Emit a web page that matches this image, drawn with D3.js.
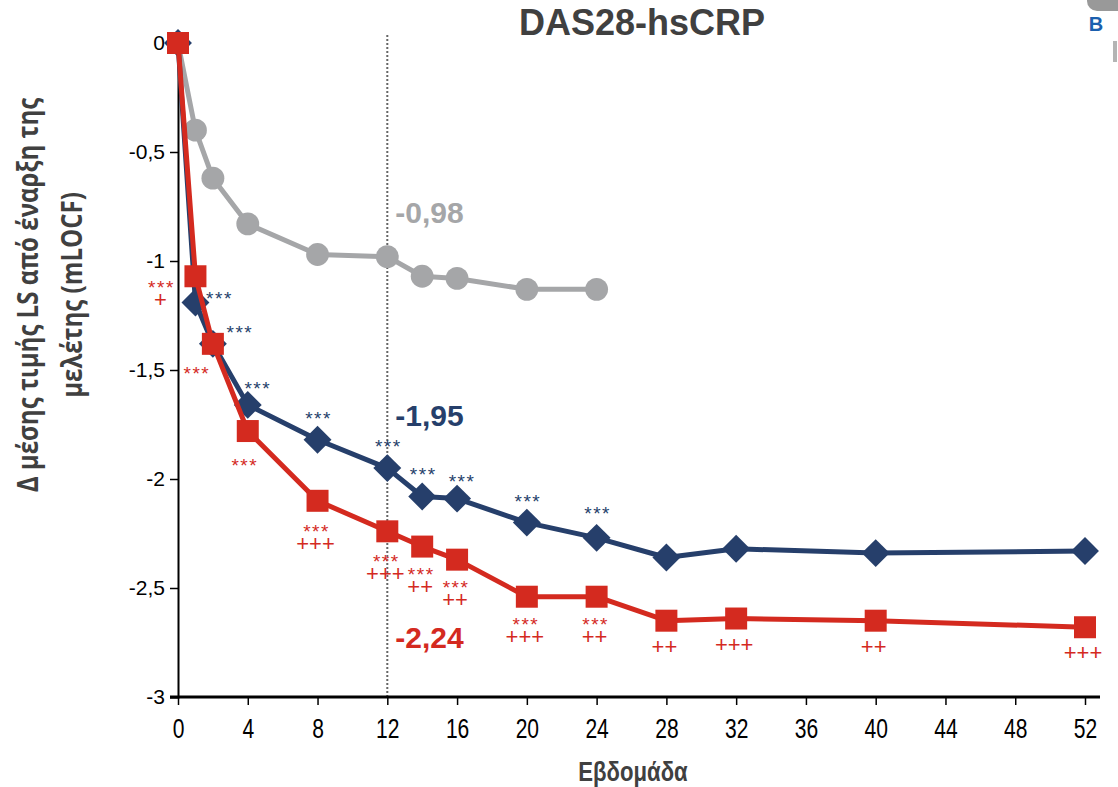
<!DOCTYPE html>
<html>
<head>
<meta charset="utf-8">
<script src="https://cdn.jsdelivr.net/npm/d3@7"></script>
<style>
  body { margin: 0; background: #fff; }
  svg { display: block; }
</style>
</head>
<body>
<div id="viz"></div>
<script>
// weeks and values
var weeksPlacebo = [0, 1, 2, 4, 8, 12, 14, 16, 20, 24];
var placebo = [0, -0.40, -0.62, -0.83, -0.97, -0.98, -1.07, -1.08, -1.13, -1.13];

var weeks = [0, 1, 2, 4, 8, 12, 14, 16, 20, 24, 28, 32, 40, 52];
var blue = [0, -1.19, -1.38, -1.66, -1.82, -1.95, -2.08, -2.09, -2.20, -2.27, -2.36, -2.32, -2.34, -2.33];
var red = [0, -1.07, -1.38, -1.78, -2.10, -2.24, -2.31, -2.37, -2.54, -2.54, -2.65, -2.64, -2.65, -2.68];

// significance marks per week
var blueStars = ['', '***', '***', '***', '***', '***', '***', '***', '***', '***', '', '', '', ''];
var redStars = ['', '***', '***', '***', '***', '***', '***', '***', '***', '***', '', '', '', ''];
var redPlus = ['', '+', '', '', '+++', '+++', '++', '++', '+++', '++', '++', '+++', '++', '+++'];

var xTicks = [0, 4, 8, 12, 16, 20, 24, 28, 32, 36, 40, 44, 48, 52];
var yTicks = [0, -0.5, -1, -1.5, -2, -2.5, -3];

var endLabels = [
  {week: 12, value: -0.98, text: '-0,98', color: '#a5a6a8'},
  {week: 12, value: -1.95, text: '-1,95', color: '#263f6b'},
  {week: 12, value: -2.24, text: '-2,24', color: '#d42a1f'}
];

var NAVY = '#263f6b', RED = '#d42a1f', GREY = '#a5a6a8', TXT = '#404040';

var svg = d3.select('#viz').append('svg')
  .attr('width', 1118)
  .attr('height', 787);

var x = d3.scaleLinear().domain([0, 52]).range([178, 1085]);
var y = d3.scaleLinear().domain([0, -3]).range([43, 697]);

// title
svg.append('text')
  .attr('x', 642).attr('y', 35)
  .attr('text-anchor', 'middle')
  .attr('style', 'font-family: "Liberation Sans", Arial, sans-serif; font-weight: bold; font-size: 36px; fill: ' + TXT)
  .text('DAS28-hsCRP');

// cropped bits in the top right corner
svg.append('rect')
  .attr('x', 1087).attr('y', -20).attr('width', 60).attr('height', 31)
  .attr('rx', 10).attr('fill', '#999');
svg.append('text')
  .attr('x', 1096).attr('y', 31)
  .attr('text-anchor', 'middle')
  .attr('style', 'font-family: "Liberation Sans", Arial, sans-serif; font-weight: bold; font-size: 20px; fill: #1b5fae')
  .text('B');
svg.append('rect')
  .attr('x', 1113).attr('y', 41).attr('width', 4).attr('height', 21)
  .attr('fill', '#b4b4b4');

// dotted line at week 12
svg.append('line')
  .attr('x1', x(12)).attr('x2', x(12))
  .attr('y1', 35).attr('y2', y(-3))
  .attr('stroke', '#666').attr('stroke-width', 2)
  .attr('stroke-dasharray', '2,2');

// y axis
var yAxis = svg.append('g')
  .attr('transform', 'translate(' + x(0) + ',0)')
  .call(d3.axisLeft(y).tickValues(yTicks).tickSize(8).tickPadding(5)
    .tickFormat(function(d) { return String(d).replace('.', ','); }));
yAxis.select('.domain').attr('stroke', '#000').attr('stroke-width', 2);
yAxis.selectAll('.tick line').attr('stroke', '#000').attr('stroke-width', 1.5);
yAxis.selectAll('.tick text')
  .attr('style', 'font-family: "Liberation Sans", Arial, sans-serif; font-size: 21px; fill: #000');

// x axis
var xAxis = svg.append('g')
  .attr('transform', 'translate(0,' + y(-3) + ')')
  .call(d3.axisBottom(x).tickValues(xTicks).tickSize(8).tickPadding(14).tickSizeOuter(0));
xAxis.select('.domain').attr('stroke', '#000').attr('stroke-width', 3)
  .attr('d', 'M' + (x(0) - 8) + ',0H1100');
xAxis.selectAll('.tick line').attr('stroke', '#000').attr('stroke-width', 1.5);
xAxis.selectAll('.tick text')
  .attr('transform', 'scale(0.78,1)')
  .attr('style', 'font-family: "Liberation Sans", Arial, sans-serif; font-size: 27px; fill: #000');

// axis titles
svg.append('text')
  .attr('transform', 'translate(633,781) scale(0.82,1)')
  .attr('text-anchor', 'middle')
  .attr('style', 'font-family: "Liberation Sans", Arial, sans-serif; font-weight: bold; font-size: 27px; fill: ' + TXT)
  .text('Εβδομάδα');

var yTitle = svg.append('text')
  .attr('transform', 'translate(38,295) rotate(-90) scale(0.86,1)')
  .attr('text-anchor', 'middle')
  .attr('style', 'font-family: "Open Sans", sans-serif; font-weight: bold; font-size: 28px; fill: ' + TXT);
yTitle.append('tspan').attr('x', 0).attr('y', 0).text('Δ μέσης τιμής LS από έναρξη της');
yTitle.append('tspan').attr('x', 0).attr('y', 44).text('μελέτης (mLOCF)');

// lines and markers
var line = d3.line()
  .x(function(d) { return x(d[0]); })
  .y(function(d) { return y(d[1]); });

function drawSeries(ws, vals, color, symbol, size, rot) {
  var pts = ws.map(function(w, i) { return [w, vals[i]]; });
  var g = svg.append('g');
  g.append('path')
    .datum(pts)
    .attr('d', line)
    .attr('fill', 'none')
    .attr('stroke', color)
    .attr('stroke-width', 5)
    .attr('stroke-linejoin', 'round');
  g.selectAll('path.mark')
    .data(pts).enter()
    .append('path')
    .attr('class', 'mark')
    .attr('d', d3.symbol().type(symbol).size(size))
    .attr('transform', function(d) {
      return 'translate(' + x(d[0]) + ',' + y(d[1]) + ') rotate(' + rot + ')';
    })
    .attr('fill', color);
  return g;
}

drawSeries(weeksPlacebo, placebo, GREY, d3.symbolCircle, 410, 0);
drawSeries(weeks, blue, NAVY, d3.symbolSquare, 390, 45);
drawSeries(weeks, red, RED, d3.symbolSquare, 484, 0);

// significance marks
var starStyle = 'font-family: "Liberation Sans", Arial, sans-serif; font-size: 19px; letter-spacing: 1.5px;';
var plusStyle = 'font-family: "Liberation Sans", Arial, sans-serif; font-size: 22px;';

// nudges for crowded early weeks
var blueShift = {1: [24, 18], 2: [27, 10], 4: [10, 5], 16: [5, 4], 24: [1, -3]};
var redShift = {1: [-35, -19], 2: [-17, -1], 4: [-4, 4]};

svg.append('g').selectAll('text')
  .data(weeks).enter()
  .filter(function(d, i) { return blueStars[i] !== ''; })
  .append('text')
  .attr('text-anchor', 'middle')
  .attr('x', function(d) {
    return x(d) + (blueShift[d] ? blueShift[d][0] : 1);
  })
  .attr('y', function(d) {
    var i = weeks.indexOf(d);
    return y(blue[i]) - 15 + (blueShift[d] ? blueShift[d][1] : 0);
  })
  .attr('style', starStyle + 'fill: ' + NAVY)
  .text(function(d) { return blueStars[weeks.indexOf(d)]; });

var redG = svg.append('g');
weeks.forEach(function(w, i) {
  var sh = redShift[w] || [-2, 0];
  var cx = x(w) + sh[0];
  var cy = y(red[i]) + sh[1];
  var top = 25;
  if (w >= 14 && w <= 24) top = 22;
  if (redStars[i] !== '') {
    redG.append('text')
      .attr('x', cx + 1).attr('y', cy + top + 12)
      .attr('text-anchor', 'middle')
      .attr('style', starStyle + 'fill: ' + RED)
      .text(redStars[i]);
  }
  if (redPlus[i] !== '') {
    var py = redStars[i] !== '' ? cy + top + 17 : cy + 25;
    redG.append('text')
      .attr('x', cx).attr('y', py + 8)
      .attr('text-anchor', 'middle')
      .attr('style', plusStyle + 'fill: ' + RED)
      .text(redPlus[i]);
  }
});

// values at week 12
svg.append('g').selectAll('text')
  .data(endLabels).enter()
  .append('text')
  .attr('x', function(d) { return x(d.week) + 8; })
  .attr('y', function(d, i) { return y(d.value) + [-34, -42, 117][i]; })
  .attr('style', function(d) {
    return 'font-family: "Liberation Sans", Arial, sans-serif; font-weight: bold; font-size: 30px; fill: ' + d.color;
  })
  .text(function(d) { return d.text; });
</script>
</body>
</html>
